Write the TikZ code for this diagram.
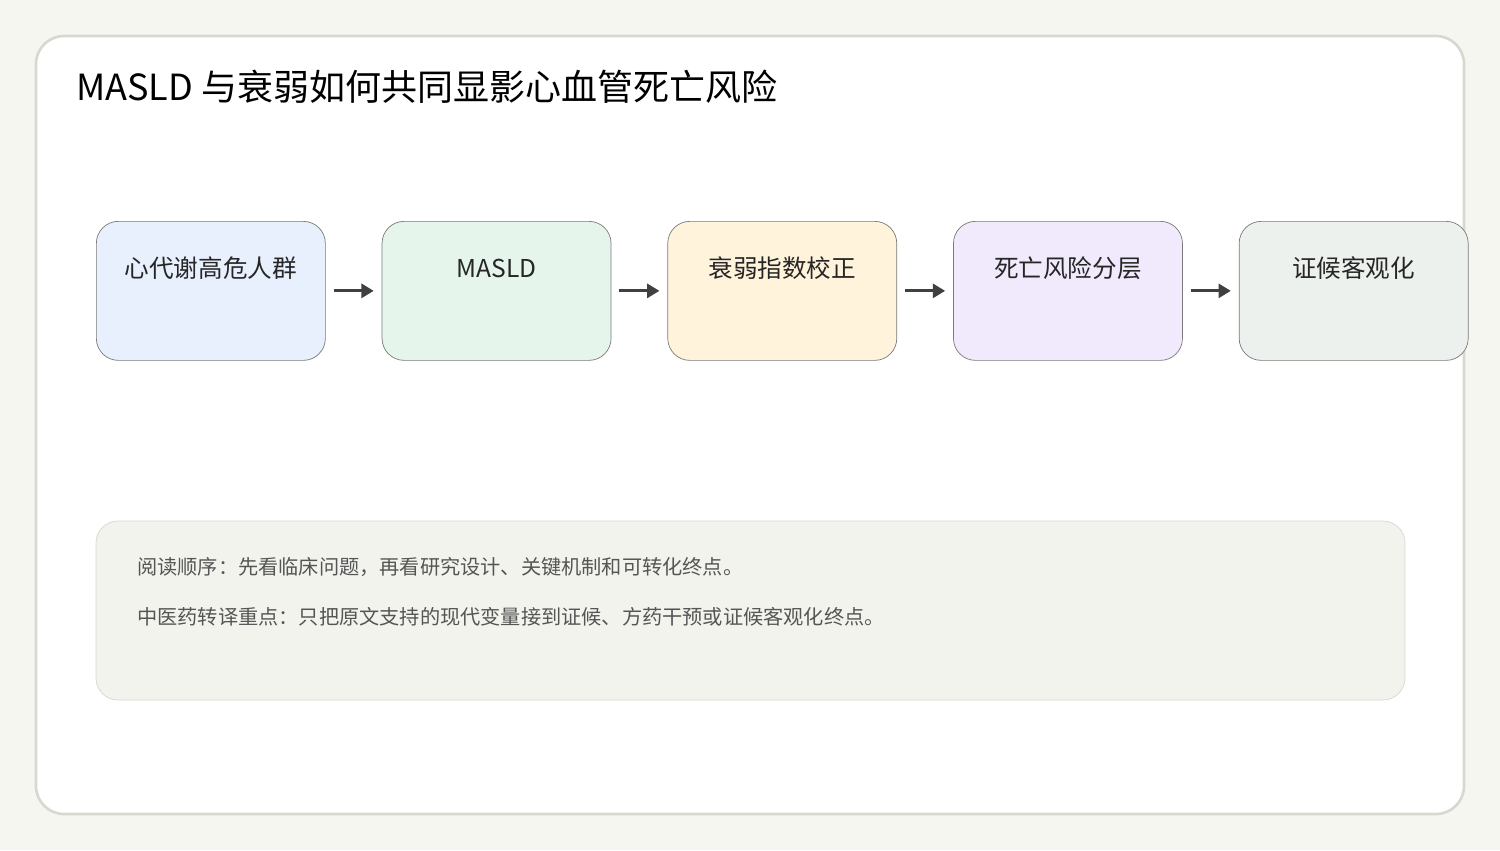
\documentclass[tikz,border=0pt]{standalone}
\usepackage{fontspec}
\setmainfont{Noto Sans CJK SC}
\usetikzlibrary{positioning,arrows.meta}
\definecolor{bgc}{HTML}{F6F6F1}
\definecolor{framec}{HTML}{D8D8D0}
\definecolor{stepline}{HTML}{7A7A7A}
\definecolor{cblue}{HTML}{E8F0FE}
\definecolor{cgreen}{HTML}{E6F5EC}
\definecolor{cyellow}{HTML}{FFF3DC}
\definecolor{cpurple}{HTML}{F1E9FC}
\definecolor{cgray}{HTML}{EDF1EE}
\definecolor{notec}{HTML}{F3F3EE}
\definecolor{notetext}{HTML}{555555}
\tikzset{
  stepbox/.style={draw=stepline, rounded corners=22*0.02cm, minimum width=229*0.02cm,
    minimum height=139*0.02cm, inner sep=0pt},
  steptext/.style={font=\fontsize{14}{16}\selectfont, text=black!85},
  flow/.style={-{Triangle[length=7pt,width=8pt]}, line width=1.6pt, draw=black!75},
}
\begin{document}
\begin{tikzpicture}[x=0.02cm,y=-0.02cm]
  \fill[bgc] (0,0) rectangle (1500,850);
  \useasboundingbox (0,0) rectangle (1500,850);
  \draw[framec, fill=white, line width=1.5pt, rounded corners=28*0.02cm] (36,36) rectangle (1464,814);
  \node[anchor=base west, font=\fontsize{20.5}{24}\selectfont] (title) at (70,100) {MASLD 与衰弱如何共同显影心血管死亡风险};
  % steps
  \node[stepbox, fill=cblue, anchor=north west] (s1) at (96,221) {};
  \node[stepbox, fill=cgreen, right=56*0.02cm of s1] (s2) {};
  \node[stepbox, fill=cyellow, right=56*0.02cm of s2] (s3) {};
  \node[stepbox, fill=cpurple, right=56*0.02cm of s3] (s4) {};
  \node[stepbox, fill=cgray, right=56*0.02cm of s4] (s5) {};
  \foreach \n/\t in {s1/心代谢高危人群, s2/MASLD, s3/衰弱指数校正, s4/死亡风险分层, s5/证候客观化}
    \node[steptext, anchor=center] at ([yshift=-47*0.02cm]\n.north) {\t};
  \foreach \a/\b in {s1/s2, s2/s3, s3/s4, s4/s5}
    \draw[flow] ([xshift=8*0.02cm]\a.east) -- ([xshift=-8*0.02cm]\b.west);
  % note
  \draw[framec, fill=notec, rounded corners=22*0.02cm] (96,521) rectangle (1405,700);
  \node[anchor=west, text=notetext, font=\fontsize{11.5}{14}\selectfont] (n1) at (131,567) {阅读顺序：先看临床问题，再看研究设计、关键机制和可转化终点。};
  \node[anchor=west, text=notetext, font=\fontsize{11.5}{14}\selectfont] (n2) at (131,617) {中医药转译重点：只把原文支持的现代变量接到证候、方药干预或证候客观化终点。};
\end{tikzpicture}
\end{document}
